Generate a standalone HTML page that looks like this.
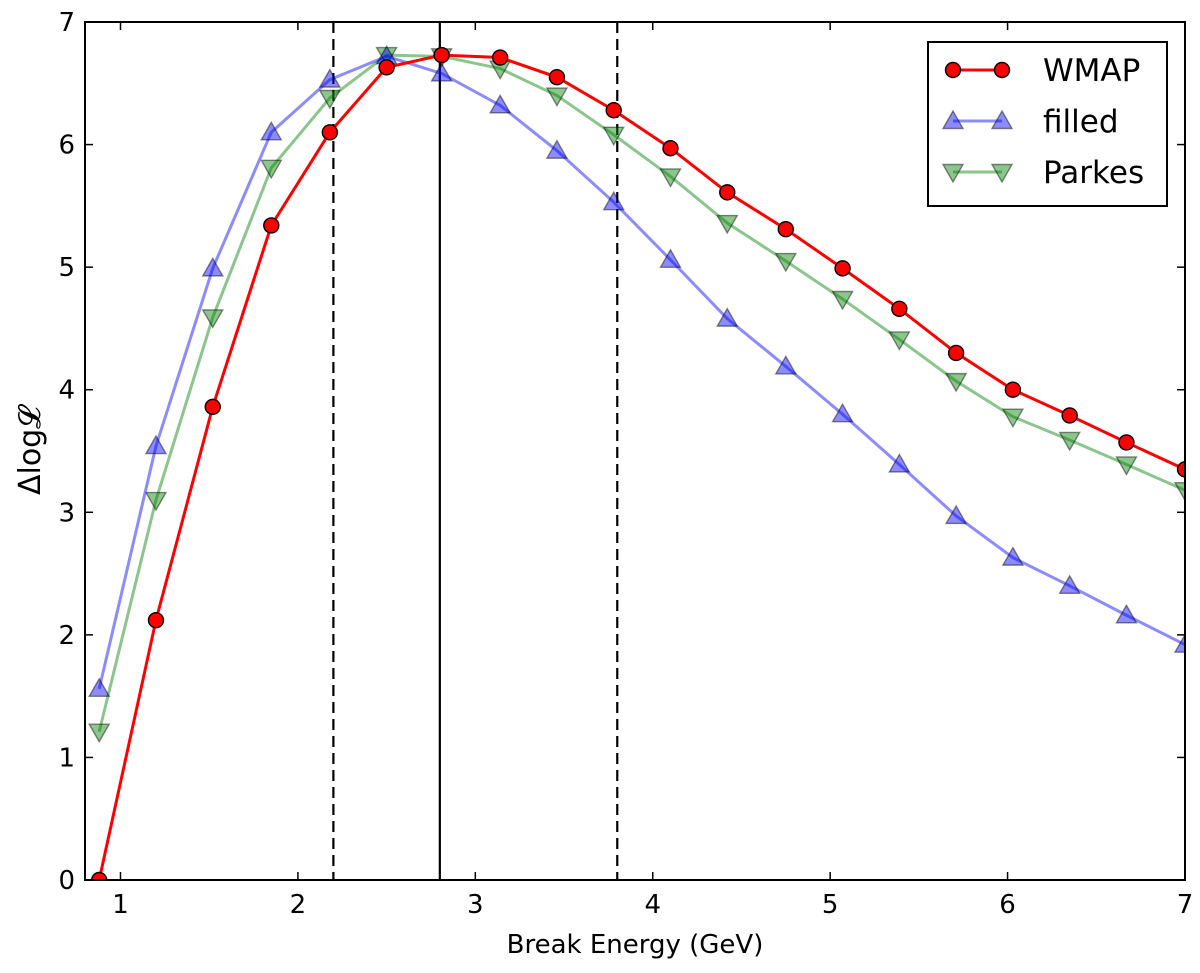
<!DOCTYPE html>
<html><head><meta charset="utf-8"><style>
body{margin:0;background:#fff;}
svg text{font-family:"DejaVu Sans","Liberation Sans",sans-serif;}
</style></head><body>
<svg id="chart" width="1200" height="968" xmlns="http://www.w3.org/2000/svg"></svg>
<script>
const xValues=[0.88,1.2,1.52,1.85,2.18,2.5,2.81,3.14,3.46,3.78,4.1,4.42,4.75,5.07,5.39,5.71,6.03,6.35,6.67,7.0];
const wmap=[0,2.12,3.86,5.34,6.10,6.63,6.73,6.71,6.55,6.28,5.97,5.61,5.31,4.99,4.66,4.30,4.00,3.79,3.57,3.35];
const filled=[1.56,3.54,4.99,6.10,6.53,6.72,6.58,6.32,5.95,5.53,5.06,4.58,4.19,3.80,3.39,2.97,2.63,2.40,2.16,1.92];
const parkes=[1.21,3.10,4.59,5.81,6.38,6.73,6.72,6.62,6.40,6.08,5.74,5.36,5.05,4.74,4.41,4.07,3.78,3.59,3.39,3.18];
const xTicks=[1,2,3,4,5,6,7];
const yTicks=[0,1,2,3,4,5,6,7];
const dashedLines=[2.2,3.8];
const solidLine=2.8;

const L=85,R=1185,T=22,B=880,X0=0.8,X1=7,Y0=0,Y1=7;
const sx=v=>L+(v-X0)/(X1-X0)*(R-L);
const sy=v=>B-(v-Y0)/(Y1-Y0)*(B-T);
const svg=document.getElementById('chart');
const NS='http://www.w3.org/2000/svg';
function mk(tag,attrs,parent){const e=document.createElementNS(NS,tag);for(const k in attrs)e.setAttribute(k,attrs[k]);(parent||svg).appendChild(e);return e;}

const clip=mk('clipPath',{id:'cp'});mk('rect',{x:L,y:T,width:R-L,height:B-T},clip);
const plot=mk('g',{'clip-path':'url(#cp)'});



dashedLines.forEach(v=>{const l=mk('line',{x1:sx(v),x2:sx(v),y1:T,y2:B,stroke:'#000','stroke-width':2.2,'stroke-dasharray':'11,6'},plot);

});
const sl=mk('line',{x1:sx(solidLine),x2:sx(solidLine),y1:T,y2:B,stroke:'#000','stroke-width':2.2},plot);



function tri(x,y,up){const s=10;return up?`${x},${y-s} ${x-s},${y+s*0.75} ${x+s},${y+s*0.75}`:`${x},${y+s} ${x-s},${y-s*0.75} ${x+s},${y-s*0.75}`;}
function series(vals,color,kind,name,op){
  const g=mk('g',{},plot);
  
  
  const pts=vals.map((v,i)=>sx(xValues[i])+','+sy(v)).join(' ');
  mk('polyline',{points:pts,fill:'none',stroke:color,'stroke-width':3,'stroke-opacity':op},g);
  vals.forEach((v,i)=>{const x=sx(xValues[i]),y=sy(v);let m;
    if(kind==='circle')m=mk('circle',{cx:x,cy:y,r:7.5,fill:color,stroke:'#000','stroke-width':1.4},g);
    else m=mk('polygon',{points:tri(x,y,kind==='up'),fill:color,'fill-opacity':op,stroke:'#000','stroke-opacity':op,'stroke-width':1.4},g);
    
    });
}
series(parkes,'#008000','down','parkes',0.45);
series(filled,'#0000ff','up','filled',0.45);
series(wmap,'#ff0000','circle','wmap',1);

const fr=mk('rect',{x:L,y:T,width:R-L,height:B-T,fill:'none',stroke:'#000','stroke-width':2});



xTicks.forEach(v=>{const x=sx(v);
  mk('line',{x1:x,x2:x,y1:B,y2:B-8,stroke:'#000','stroke-width':1.5});
  mk('line',{x1:x,x2:x,y1:T,y2:T+8,stroke:'#000','stroke-width':1.5});
  const t=mk('text',{x:x,y:B+33,'text-anchor':'middle','font-size':26});t.textContent=v;
  
  });
yTicks.forEach(v=>{const y=sy(v);
  mk('line',{x1:L,x2:L+8,y1:y,y2:y,stroke:'#000','stroke-width':1.5});
  mk('line',{x1:R,x2:R-8,y1:y,y2:y,stroke:'#000','stroke-width':1.5});
  const t=mk('text',{x:L-10,y:y+9,'text-anchor':'end','font-size':26});t.textContent=v;
  
  });

const xt=mk('text',{x:(L+R)/2,y:953,'text-anchor':'middle','font-size':26});xt.textContent='Break Energy (GeV)';


const yt=mk('text',{x:0,y:0,'text-anchor':'middle','font-size':30,transform:`translate(40,${(T+B)/2}) rotate(-90)`,'font-family':'"Liberation Serif",serif'});
yt.textContent='Δlog𝓛';



const lg=mk('g',{});


mk('rect',{x:928,y:42,width:239,height:164,fill:'#fff',stroke:'#000','stroke-width':2},lg);
[['WMAP','#ff0000','circle',1,70],['filled','#0000ff','up',0.45,121],['Parkes','#008000','down',0.45,172]].forEach(([n,c,k,op,y])=>{
  const e=mk('g',{},lg);
  
  
  mk('line',{x1:953,x2:1002,y1:y,y2:y,stroke:c,'stroke-width':3,'stroke-opacity':op},e);
  [953,1002].forEach(x=>{if(k==='circle')mk('circle',{cx:x,cy:y,r:7.5,fill:c,stroke:'#000','stroke-width':1.4},e);
    else mk('polygon',{points:tri(x,y,k==='up'),fill:c,'fill-opacity':op,stroke:'#000','stroke-opacity':op,'stroke-width':1.4},e);});
  const t=mk('text',{x:1043,y:y+11,'font-size':31},e);t.textContent=n;
});
</script>
</body></html>
